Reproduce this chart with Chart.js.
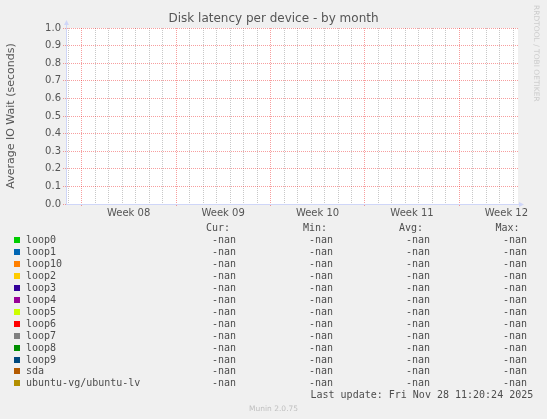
<!DOCTYPE html>
<html>
<head>
<meta charset="utf-8">
<title>Disk latency per device - by month</title>
<script src="https://cdn.jsdelivr.net/npm/chart.js@4.4.1/dist/chart.umd.min.js"></script>
<style>
  html, body { margin: 0; padding: 0; background: #f0f0f0; }
  #wrap { position: relative; width: 547px; height: 419px; overflow: hidden; }
  #chart { position: absolute; left: 0; top: 0; }
  .t { position: absolute; white-space: pre; }
  .mono { font-family: "DejaVu Sans Mono", monospace; font-size: 10px; line-height: 12px; color: #4d4d4d; }
  .box { position: absolute; width: 6px; height: 6px; }
</style>
</head>
<body>
<div id="wrap">
  <canvas id="chart" width="547" height="419"></canvas>
  <div id="legend"></div>
</div>
<script>
// axe x en jours, semaines de 7 jours
const weekLabels = ["Week 08", "Week 09", "Week 10", "Week 11", "Week 12"];
const weekStarts = [0, 7, 14, 21, 28];
const xMin = -1.16;
const xMax = 32.34;

// axe y
const yTicks = [0, 0.1, 0.2, 0.3, 0.4, 0.5, 0.6, 0.7, 0.8, 0.9, 1.0];

// séries (toutes vides : -nan)
const seriesNames = ["loop0", "loop1", "loop10", "loop2", "loop3", "loop4", "loop5",
                     "loop6", "loop7", "loop8", "loop9", "sda", "ubuntu-vg/ubuntu-lv"];
const seriesColors = ["#00cc00", "#0066b3", "#ff8000", "#ffcc00", "#330099", "#990099", "#ccff00",
                      "#ff0000", "#808080", "#008f00", "#00487d", "#b35a00", "#b38f00"];
const curVals = [NaN, NaN, NaN, NaN, NaN, NaN, NaN, NaN, NaN, NaN, NaN, NaN, NaN];
const minVals = [NaN, NaN, NaN, NaN, NaN, NaN, NaN, NaN, NaN, NaN, NaN, NaN, NaN];
const avgVals = [NaN, NaN, NaN, NaN, NaN, NaN, NaN, NaN, NaN, NaN, NaN, NaN, NaN];
const maxVals = [NaN, NaN, NaN, NaN, NaN, NaN, NaN, NaN, NaN, NaN, NaN, NaN, NaN];
const seriesPoints = seriesNames.map(() => []); // aucun point mesuré

const lastUpdate = "Last update: Fri Nov 28 11:20:24 2025";

const textColor = "#555";
const axisColor = "#cfd6f8";
const majorGrid = "rgba(233, 0, 0, 0.38)";
const minorGrid = "rgba(140, 140, 140, 0.48)";

// un tick par jour ; rouge au début de chaque semaine
const dayTicks = [];
for (let d = Math.ceil(xMin); d <= Math.floor(xMax); d++) dayTicks.push(d);
const dayGridColors = dayTicks.map(d => weekStarts.includes(d) ? majorGrid : minorGrid);
const dayTickColors = dayTicks.map(d => weekStarts.includes(d) ? majorGrid : "rgba(0,0,0,0)");

// Fond blanc de la zone de tracé + flèches des axes
const canvasBg = {
    id: "canvasBg",
    beforeDraw(chart) {
        const { ctx, chartArea: a } = chart;
        ctx.save();
        ctx.fillStyle = "#fff";
        ctx.fillRect(a.left, a.top, a.right - a.left, a.bottom - a.top);
        ctx.restore();
    },
    afterDraw(chart) {
        const { ctx, chartArea: a } = chart;
        const x0 = Math.round(a.left) + 0.5;
        const y0 = Math.round(a.bottom) + 0.5;
        ctx.save();
        ctx.strokeStyle = axisColor;
        ctx.fillStyle = axisColor;
        ctx.lineWidth = 1;
        ctx.beginPath();
        ctx.moveTo(x0, a.top);
        ctx.lineTo(x0, a.top - 4);
        ctx.moveTo(a.right, y0);
        ctx.lineTo(a.right + 2, y0);
        ctx.stroke();
        ctx.beginPath();
        ctx.moveTo(x0, a.top - 8);
        ctx.lineTo(x0 - 2.5, a.top - 3);
        ctx.lineTo(x0 + 2.5, a.top - 3);
        ctx.closePath();
        ctx.fill();
        ctx.beginPath();
        ctx.moveTo(a.right + 6, y0);
        ctx.lineTo(a.right + 1, y0 - 2.5);
        ctx.lineTo(a.right + 1, y0 + 2.5);
        ctx.closePath();
        ctx.fill();
        ctx.restore();
    }
};

const ctx = document.getElementById("chart").getContext("2d");
new Chart(ctx, {
    type: "line",
    data: {
        datasets: seriesNames.map((name, i) => ({
            label: name,
            data: seriesPoints[i],
            borderColor: seriesColors[i],
            backgroundColor: seriesColors[i],
            borderWidth: 1,
            pointRadius: 0
        }))
    },
    options: {
        responsive: false,
        animation: false,
        layout: { padding: { left: 0, right: 0, top: 0, bottom: 193 } },
        plugins: {
            legend: { display: false },
            tooltip: { enabled: false },
            title: {
                display: true,
                text: "Disk latency per device - by month",
                color: textColor,
                font: { family: "DejaVu Sans", size: 12, weight: "normal", lineHeight: 1.2 },
                padding: { top: 12, bottom: 1.6 }
            }
        },
        scales: {
            x: {
                type: "linear",
                min: xMin,
                max: xMax,
                afterBuildTicks(scale) { scale.ticks = dayTicks.map(v => ({ value: v })); },
                afterFit(scale) { scale.height = 22; },
                ticks: {
                    autoSkip: false,
                    maxRotation: 0,
                    padding: 0,
                    labelOffset: 47,
                    color: textColor,
                    font: { family: "DejaVu Sans", size: 10 },
                    callback(value) {
                        const i = weekStarts.indexOf(value);
                        return i >= 0 ? weekLabels[i] : "";
                    }
                },
                grid: {
                    color: dayGridColors,
                    tickColor: dayTickColors,
                    tickLength: 3,
                    tickBorderDash: [1, 1],
                    lineWidth: 1
                },
                border: { display: true, color: axisColor, width: 1, dash: [1, 1] }
            },
            y: {
                type: "linear",
                min: 0,
                max: 1,
                afterBuildTicks(scale) { scale.ticks = yTicks.map(v => ({ value: v })); },
                afterFit(scale) { scale.width = 66; },
                ticks: {
                    padding: 2,
                    color: textColor,
                    font: { family: "DejaVu Sans", size: 10 },
                    callback: v => v.toFixed(1)
                },
                grid: {
                    color: majorGrid,
                    tickColor: majorGrid,
                    tickLength: 3,
                    tickBorderDash: [1, 1],
                    lineWidth: 1
                },
                border: { display: true, color: axisColor, width: 1, dash: [1, 1] },
                title: {
                    display: true,
                    text: "Average IO Wait (seconds)",
                    color: textColor,
                    font: { family: "DejaVu Sans", size: 11, lineHeight: 1.2 },
                    padding: { top: 5, bottom: 0 }
                }
            },
            yr: {
                type: "linear",
                position: "right",
                display: true,
                afterFit(scale) { scale.width = 29; },
                ticks: { display: false },
                grid: { display: false },
                border: { display: false }
            }
        }
    },
    plugins: [canvasBg]
});

// Légende façon rrdtool (texte HTML)
const legend = document.getElementById("legend");
function addText(str, left, centerY, cls, extra) {
    const el = document.createElement("div");
    el.className = "t " + cls;
    el.textContent = str;
    el.style.left = left + "px";
    el.style.top = (centerY - 6) + "px";
    if (extra) Object.assign(el.style, extra);
    legend.appendChild(el);
    return el;
}
const fmt = v => isNaN(v) ? "-nan" : v.toFixed(2);
const headers = ["Cur:", "Min:", "Avg:", "Max:"];
const headerLeft = [206, 303, 399, 495.5];
const valueLeft = [212, 309, 406, 503];
headers.forEach((h, k) => addText(h, headerLeft[k], 227.5, "mono"));

seriesNames.forEach((name, i) => {
    const cy = 240 + i * 11.95;
    const box = document.createElement("div");
    box.className = "box";
    box.style.left = "14px";
    box.style.top = (cy - 3) + "px";
    box.style.background = seriesColors[i];
    legend.appendChild(box);
    addText(name, 26, cy, "mono");
    [curVals, minVals, avgVals, maxVals].forEach((arr, k) => addText(fmt(arr[i]), valueLeft[k], cy, "mono"));
});

addText(lastUpdate, 310.5, 395, "mono");
addText("Munin 2.0.75", 249, 409, "", {
    fontFamily: "DejaVu Sans", fontSize: "7.5px", lineHeight: "12px", color: "#c0c0c0"
});
addText("RRDTOOL / TOBI OETIKER", 0, 0, "", {
    fontFamily: "DejaVu Sans", fontSize: "7.5px", lineHeight: "10px", color: "#cccccc",
    transformOrigin: "0 0", transform: "rotate(90deg)", left: "541px", top: "5px"
});
</script>
</body>
</html>
